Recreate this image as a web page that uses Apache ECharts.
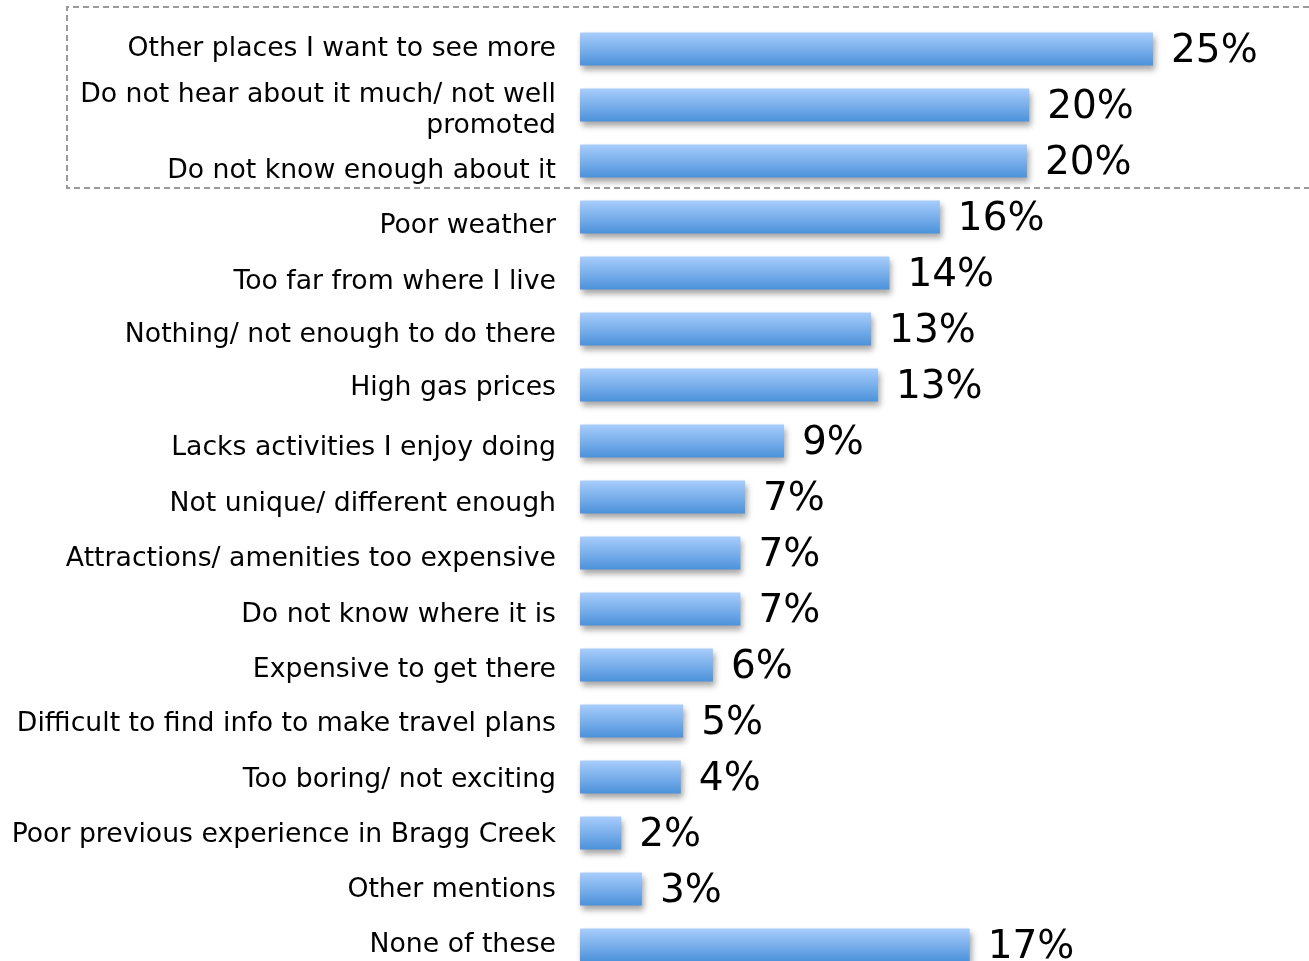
<!DOCTYPE html>
<html>
<head>
<meta charset="utf-8">
<script src="https://cdn.jsdelivr.net/npm/echarts@6/dist/echarts.min.js"></script>
<style>
  html, body { margin: 0; padding: 0; background: #fff; height: 961px; overflow: hidden; }
  #chart { width: 1309px; height: 980px; }
</style>
</head>
<body>
<div id="chart"></div>
<script>
// Reasons for not visiting, share of respondents (%)
const categories = [
  'Other places I want to see more',
  'Do not hear about it much/ not well\npromoted',
  'Do not know enough about it',
  'Poor weather',
  'Too far from where I live',
  'Nothing/ not enough to do there',
  'High gas prices',
  'Lacks activities I enjoy doing',
  'Not unique/ different enough',
  'Attractions/ amenities too expensive',
  'Do not know where it is',
  'Expensive to get there',
  'Difficult to find info to make travel plans',
  'Too boring/ not exciting',
  'Poor previous experience in Bragg Creek',
  'Other mentions',
  'None of these'
];
const values = [25.0, 19.6, 19.5, 15.7, 13.5, 12.7, 13.0, 8.9, 7.2, 7.0, 7.0, 5.8, 4.5, 4.4, 1.8, 2.7, 17.0];

// vertical nudge (px) of each category label relative to its bar
const labelNudge = [0.5, 5.5, 10.5, 9.5, 8.7, 6.3, 3.3, 7.1, 7.5, 6.5, 6, 5, 3.2, 3.5, 2.5, 1, 0.5];

const FONT = '"DejaVu Sans", Verdana, sans-serif';
const LABEL_SIZE = 26.7;

const rich = {};
labelNudge.forEach((d, i) => {
  rich['p' + i] = {
    fontSize: LABEL_SIZE,
    fontFamily: FONT,
    color: '#000',
    lineHeight: i === 1 ? 31.5 : 33,
    padding: d >= 0 ? [2 * d, 0, 0, 0] : [0, 0, -2 * d, 0]
  };
});

const chart = echarts.init(document.getElementById('chart'), null, { renderer: 'canvas' });

chart.setOption({
  animation: false,
  backgroundColor: '#ffffff',
  grid: { left: 580, top: 21, height: 952, width: 687.6 },
  xAxis: {
    type: 'value', min: 0, max: 30,
    show: false, splitLine: { show: false }
  },
  yAxis: {
    type: 'category',
    data: categories,
    inverse: true,
    axisLine: { show: false },
    axisTick: { show: false },
    axisLabel: {
      margin: 24,
      fontSize: LABEL_SIZE,
      fontFamily: FONT,
      color: '#000',
      align: 'right',
      formatter: (v, i) => v.split('\n').map(line => '{p' + i + '|' + line + '}').join('\n'),
      rich: rich
    }
  },
  series: [{
    type: 'bar',
    data: values,
    barWidth: 33,
    itemStyle: {
      color: new echarts.graphic.LinearGradient(0, 0, 0, 1, [
        { offset: 0, color: '#a8cdfc' },
        { offset: 1, color: '#4c92da' }
      ]),
      shadowColor: 'rgba(0,0,0,0.35)',
      shadowBlur: 6,
      shadowOffsetX: 2,
      shadowOffsetY: 4
    },
    label: {
      show: true,
      position: 'right',
      distance: 18,
      offset: [0, 3],
      fontSize: 39,
      fontFamily: FONT,
      color: '#000',
      formatter: p => Math.round(p.value) + '%'
    }
  }],
  graphic: [{
    type: 'polyline',
    shape: { points: [[1309, 7], [67, 7], [67, 188], [1309, 188]] },
    style: { stroke: '#9a9a9a', lineWidth: 2, lineDash: [6, 4], fill: null },
    z: 10
  }]
});
</script>
</body>
</html>
